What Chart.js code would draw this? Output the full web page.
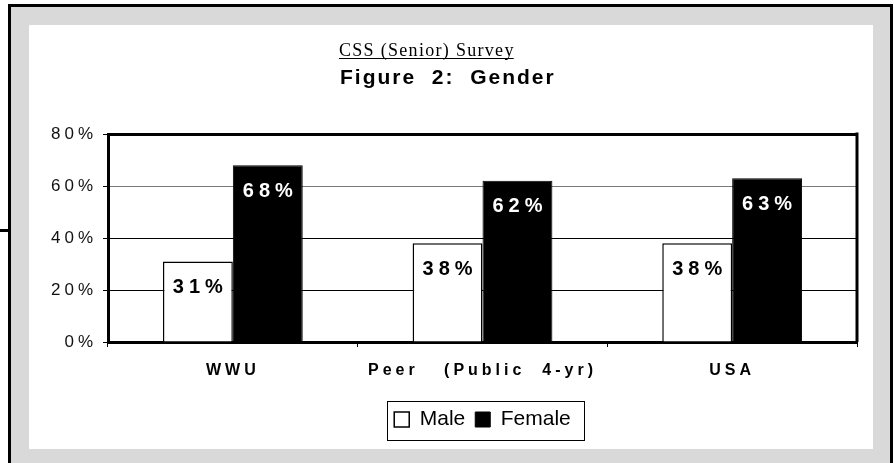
<!DOCTYPE html>
<html>
<head>
<meta charset="utf-8">
<title>CSS (Senior) Survey - Figure 2: Gender</title>
<script src="https://cdn.jsdelivr.net/npm/chart.js@4.4.1/dist/chart.umd.min.js"></script>
<style>
    html, body { margin: 0; padding: 0; background: #ffffff; }
    canvas { display: block; }
</style>
</head>
<body>
<canvas id="myChart" width="894" height="463"></canvas>
<script>
// Chart data
const categories = ['WWU', 'Peer   (Public  4-yr)', 'USA'];
const maleValues = [31, 38, 38];
const femaleValues = [68, 62, 63];
const yTicks = [0, 20, 40, 60, 80];
const surveyName = 'CSS (Senior) Survey';
const figureTitle = 'Figure  2:  Gender';

// Grey frame, white panel and the title lines
const framePlugin = {
    id: 'frame',
    beforeDraw(chart) {
        const ctx = chart.ctx;
        ctx.save();
        ctx.fillStyle = '#d9d9d9';
        ctx.fillRect(11, 7, 879, 456);
        ctx.fillStyle = '#000';
        ctx.fillRect(8, 4, 3, 459);      // left border
        ctx.fillRect(8, 4, 885, 3);      // top border
        ctx.fillRect(890, 4, 3, 459);    // right border
        ctx.fillRect(0, 229, 9, 3);      // stub on the left edge
        ctx.fillStyle = '#ffffff';
        ctx.fillRect(29, 25, 844, 424);
        ctx.restore();
        ctx.letterSpacing = '0px';
    },
    beforeDatasetsDraw(chart) {
        // right edge of the plot area
        const ctx = chart.ctx;
        const a = chart.chartArea;
        ctx.save();
        ctx.strokeStyle = '#000';
        ctx.lineWidth = 3;
        ctx.beginPath();
        ctx.moveTo(a.right, a.top - 1.5);
        ctx.lineTo(a.right, a.bottom);
        ctx.stroke();
        ctx.restore();
    },
    afterDatasetsDraw(chart) {
        // value labels inside the bars
        const ctx = chart.ctx;
        const colors = ['#000', '#fff'];
        ctx.save();
        ctx.font = 'bold 20px Arial, "Liberation Sans", sans-serif';
        ctx.letterSpacing = '5px';
        ctx.textAlign = 'center';
        ctx.textBaseline = 'middle';
        chart.data.datasets.forEach((ds, i) => {
            const meta = chart.getDatasetMeta(i);
            ctx.fillStyle = colors[i];
            meta.data.forEach((bar, j) => {
                ctx.fillText(ds.data[j] + '%', bar.x + 2.5, bar.y + 26);
            });
        });
        ctx.restore();
        // tick labels are drawn after this (ticks.z = 1)
        ctx.letterSpacing = '4px';
    },
    afterDraw(chart) {
        const ctx = chart.ctx;
        ctx.letterSpacing = '0px';
        ctx.save();
        ctx.fillStyle = '#000';
        ctx.textBaseline = 'alphabetic';
        ctx.textAlign = 'left';

        ctx.font = '18px "Liberation Serif", "Times New Roman", serif';
        ctx.letterSpacing = '1.3px';
        ctx.fillText(surveyName, 339, 56);
        const w = ctx.measureText(surveyName).width - 1;
        ctx.fillRect(339, 58, w, 1);

        ctx.font = 'bold 21px Arial, "Liberation Sans", sans-serif';
        ctx.letterSpacing = '2px';
        ctx.fillText(figureTitle, 340, 84);
        ctx.restore();
        ctx.letterSpacing = '0px';

        // box round the legend
        const boxes = chart.legend.legendHitBoxes;
        if (boxes && boxes.length) {
            const first = boxes[0];
            const last = boxes[boxes.length - 1];
            const cy = first.top + first.height / 2;
            ctx.save();
            ctx.strokeStyle = '#000';
            ctx.lineWidth = 1;
            ctx.strokeRect(Math.round(first.left - 7) + 0.5, Math.round(cy - 19) + 0.5,
                Math.round(last.left + last.width - first.left + 20), 39);
            ctx.restore();
        }
    }
};

function createChart() {
    const ctx = document.getElementById('myChart');
    const myChart = new Chart(ctx, {
        type: 'bar',
        data: {
            labels: categories,
            datasets: [{
                label: 'Male',
                data: maleValues,
                backgroundColor: '#ffffff',
                borderColor: '#000000',
                borderWidth: 1.5
            }, {
                label: 'Female',
                data: femaleValues,
                backgroundColor: '#000000',
                borderColor: '#000000',
                borderWidth: 1
            }]
        },
        options: {
            responsive: false,
            animation: false,
            devicePixelRatio: 1,
            layout: {
                padding: { left: 29, right: 37, top: 134, bottom: 23 }
            },
            datasets: {
                bar: {
                    barPercentage: 1,
                    categoryPercentage: 0.56,
                    borderSkipped: 'bottom'
                }
            },
            scales: {
                x: {
                    afterFit: (scale) => { scale.height = 57; },
                    grid: {
                        offset: true,
                        drawOnChartArea: false,
                        drawTicks: true,
                        tickLength: 5,
                        tickColor: '#000'
                    },
                    border: { display: true, color: '#000', width: 3 },
                    ticks: {
                        z: 1,
                        autoSkip: false,
                        maxRotation: 0,
                        padding: 14,
                        color: '#000',
                        font: { family: 'Arial, "Liberation Sans", sans-serif', size: 16, weight: 'bold' }
                    }
                },
                y: {
                    min: 0,
                    max: 80,
                    afterFit: (scale) => { scale.width = 79; },
                    afterBuildTicks: (scale) => {
                        scale.ticks = yTicks.map(v => ({ value: v }));
                    },
                    grid: {
                        color: (c) => (c.tick && c.tick.value === 60 ? '#7a7a7a' : '#000'),
                        lineWidth: (c) => (c.tick && c.tick.value === 80 ? 3 : 1),
                        tickLength: 5,
                        tickColor: '#000',
                        tickWidth: 1
                    },
                    border: { display: true, color: '#000', width: 3 },
                    ticks: {
                        z: 1,
                        padding: 6,
                        color: '#111',
                        font: { family: 'Arial, "Liberation Sans", sans-serif', size: 17 },
                        callback: (v) => v + '%'
                    }
                }
            },
            plugins: {
                title: { display: false },
                tooltip: { enabled: false },
                legend: {
                    position: 'bottom',
                    fullSize: false,
                    labels: {
                        boxWidth: 15,
                        boxHeight: 15,
                        padding: 10,
                        color: '#000',
                        font: { family: 'Arial, "Liberation Sans", sans-serif', size: 21 }
                    }
                }
            }
        },
        plugins: [framePlugin]
    });
    return myChart;
}
createChart();
</script>
</body>
</html>
